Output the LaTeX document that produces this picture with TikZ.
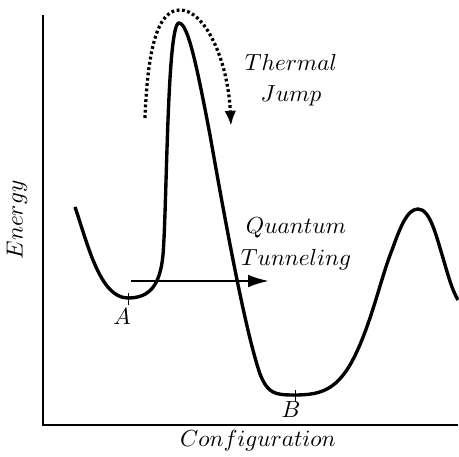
\documentclass[tikz,border=0pt]{standalone}
\usetikzlibrary{arrows.meta}
\begin{document}
\begin{tikzpicture}[x=0.43pt,y=-0.43pt,
  axis/.style={line width=0.9pt},
  curve/.style={line width=1.45pt, line join=round},
  jump/.style={line width=1.4pt, dash pattern=on 1.2pt off 1.1pt, -{Latex[length=6.5pt,width=5pt]}},
  tunnel/.style={line width=1.1pt, -{Latex[length=9pt,width=5.5pt]}},
  lbl/.style={inner sep=0pt, font=\fontsize{10.3}{13.5}\selectfont, align=center},
  tickmark/.style={line width=0.3pt}]
\useasboundingbox (0,0) rectangle (459,457);
% axes
\coordinate (ytop) at (43,15);
\coordinate (origin) at (43,425);
\coordinate (xend) at (458,425);
\draw[axis] (ytop) -- (origin) -- (xend);
% energy curve
\coordinate (start) at (75,207);
\coordinate (A) at (128,298);
\coordinate (P1) at (179,23);
\coordinate (B) at (295,395);
\coordinate (P2) at (418,209);
\coordinate (end) at (458,300);
\draw[curve] (start) .. controls (88,245) and (100,298) .. (A)
  .. controls (150,298) and (160,285) .. (163,255)
  .. controls (167,205) and (167,23) .. (P1)
  .. controls (188,23) and (197,67) .. (210,135)
  .. controls (225,220) and (245,330) .. (260,374)
  .. controls (268,394) and (275,395) .. (B)
  .. controls (320,395) and (335,390) .. (350,365)
  .. controls (370,330) and (380,280) .. (392,250)
  .. controls (400,228) and (407,209) .. (P2)
  .. controls (430,209) and (436,235) .. (443,258)
  .. controls (448,275) and (452,290) .. (end);
% ticks
\draw[tickmark] ([yshift=-3pt]A) -- ([yshift=2pt]A);
\draw[tickmark] ([yshift=-3pt]B) -- ([yshift=2pt]B);
% labels
\node[lbl] (la) at (122,317) {$A$};
\node[lbl] (lb) at (291,410) {$B$};
\node[lbl] (lx) at (258,441) {$Configuration$};
\node[lbl, rotate=90] (ly) at (17,220) {$Energy$};
\node[lbl] (thermal) at (291,80) {$Thermal$\\$Jump$};
\node[lbl] (quantum) at (296,244) {$Quantum$\\$Tunneling$};
% thermal jump arrow
\coordinate (js) at (145,118);
\coordinate (jt) at (180,10);
\coordinate (je) at (231,126);
\draw[jump] (js) .. controls (148,40) and (160,10) .. (jt)
  .. controls (205,10) and (228,60) .. (je);
% tunneling arrow
\coordinate (ts) at (131,281);
\coordinate (te) at (269,281);
\draw[tunnel] (ts) -- (te);
\end{tikzpicture}
\end{document}
